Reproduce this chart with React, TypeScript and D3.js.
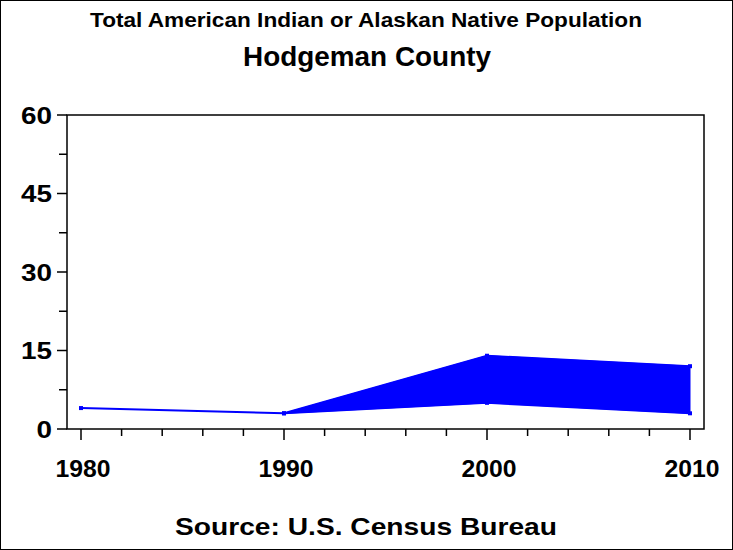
import React from "react";
import * as d3 from "d3";

const years = [1980, 1990, 2000, 2010];
const totalValues = [4, 3, 14, 12];
const lowerYears = [1990, 2000, 2010];
const lowerValues = [3, 5, 3];
const upperValues = [3, 14, 12];
const yTicks = [0, 15, 30, 45, 60];
const yMinor = [7.5, 22.5, 37.5, 52.5];
const xTicks = [1980, 1990, 2000, 2010];

const W = 733;
const H = 550;
const left = 67, right = 704, top = 115, bottom = 429;
const font = "'Liberation Sans', Arial, sans-serif";
const blue = "#0000ff";

export default function App() {
  const x = d3.scaleLinear().domain([1980, 2010]).range([81, 690]);
  const y = d3.scaleLinear().domain([0, 60]).range([bottom, top]);
  const xMinor = d3.range(1980, 2011, 2).filter((v) => v % 10 !== 0);

  const band = lowerYears.map((yr, i) => ({ yr, lo: lowerValues[i], hi: upperValues[i] }));
  const area = d3
    .area<{ yr: number; lo: number; hi: number }>()
    .x((d) => x(d.yr))
    .y0((d) => y(d.lo))
    .y1((d) => y(d.hi));
  const line = d3
    .line<number>()
    .x((_, i) => x(years[i]))
    .y((d) => y(d));
  const lowLine = d3
    .line<number>()
    .x((_, i) => x(lowerYears[i]))
    .y((d) => y(d));

  return (
    <svg width={W} height={H} style={{ position: "absolute", left: 0, top: 0, background: "#fff" }}>
      <rect x={0.5} y={0.5} width={W - 1} height={H - 1} fill="#fff" stroke="#000" />
      <text x={366} y={27} textAnchor="middle" fontFamily={font} fontSize={21} fontWeight="bold" textLength={552} lengthAdjust="spacingAndGlyphs">
        Total American Indian or Alaskan Native Population
      </text>
      <text x={367} y={66} textAnchor="middle" fontFamily={font} fontSize={27} fontWeight="bold" textLength={248} lengthAdjust="spacingAndGlyphs">
        Hodgeman County
      </text>
      <text x={366} y={535} textAnchor="middle" fontFamily={font} fontSize={24} fontWeight="bold" textLength={382} lengthAdjust="spacingAndGlyphs">
        Source: U.S. Census Bureau
      </text>

      <path d={area(band) || ""} fill={blue} stroke={blue} strokeWidth={1} />
      <path d={line(totalValues) || ""} fill="none" stroke={blue} strokeWidth={2} />
      <path d={lowLine(lowerValues) || ""} fill="none" stroke={blue} strokeWidth={2} />
      {years.map((yr, i) => (
        <rect key={"p" + yr} x={x(yr) - 2} y={y(totalValues[i]) - 2} width={4} height={4} fill={blue} />
      ))}
      {lowerYears.map((yr, i) => (
        <rect key={"l" + yr} x={x(yr) - 2} y={y(lowerValues[i]) - 2} width={4} height={4} fill={blue} />
      ))}

      <rect x={left} y={top} width={right - left} height={bottom - top} fill="none" stroke="#000" strokeWidth={1.5} />

      {yTicks.map((t) => (
        <g key={"y" + t}>
          <line x1={left - 10} x2={left} y1={y(t)} y2={y(t)} stroke="#000" strokeWidth={1.5} />
          <text x={52} y={y(t) + 8.5} textAnchor="end" fontFamily={font} fontSize={24} fontWeight="bold" textLength={String(t).length * 15.5} lengthAdjust="spacingAndGlyphs">
            {t}
          </text>
        </g>
      ))}
      {yMinor.map((t) => (
        <line key={"ym" + t} x1={left - 8} x2={left} y1={y(t)} y2={y(t)} stroke="#000" strokeWidth={1.5} />
      ))}
      {xTicks.map((t) => (
        <g key={"x" + t}>
          <line x1={x(t)} x2={x(t)} y1={bottom} y2={bottom + 11} stroke="#000" strokeWidth={1.5} />
          <text x={x(t) + 2} y={477} textAnchor="middle" fontFamily={font} fontSize={24} fontWeight="bold" textLength={55} lengthAdjust="spacingAndGlyphs">
            {t}
          </text>
        </g>
      ))}
      {xMinor.map((t) => (
        <line key={"xm" + t} x1={x(t)} x2={x(t)} y1={bottom} y2={bottom + 7} stroke="#000" strokeWidth={1.5} />
      ))}
    </svg>
  );
}
